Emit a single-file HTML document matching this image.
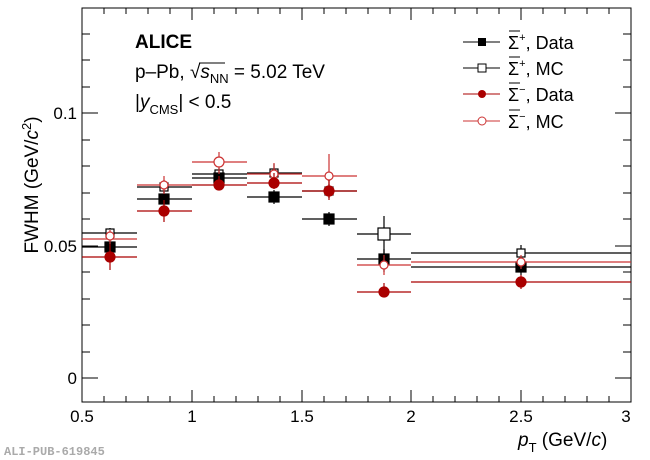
<!DOCTYPE html>
<html><head><meta charset="utf-8"><style>
body{margin:0;background:#fff;}
svg{display:block;font-family:"Liberation Sans",sans-serif;}
</style></head><body>
<svg width="650" height="460" viewBox="0 0 650 460" xmlns="http://www.w3.org/2000/svg">
<rect x="0" y="0" width="650" height="460" fill="#fff"/>
<g stroke="#000" stroke-width="1" fill="none">
<rect x="82" y="8" width="549" height="394"/>
<path d="M82,402v-12M192,402v-12M302,402v-12M411,402v-12M521,402v-12M631,402v-12"/>
<path d="M104,402v-6M126,402v-6M148,402v-6M170,402v-6M214,402v-6M236,402v-6M258,402v-6M280,402v-6M324,402v-6M346,402v-6M368,402v-6M390,402v-6M433,402v-6M455,402v-6M477,402v-6M499,402v-6M543,402v-6M565,402v-6M587,402v-6M609,402v-6"/>
<path d="M104,8v6M126,8v6M148,8v6M170,8v6M192,8v12M214,8v6M236,8v6M258,8v6M280,8v6M302,8v12M324,8v6M346,8v6M368,8v6M390,8v6M411,8v12M433,8v6M455,8v6M477,8v6M499,8v6M521,8v12M543,8v6M565,8v6M587,8v6M609,8v6"/>
<path d="M82,378h16M82,246h16M82,113h16M82,352h8M82,325h8M82,299h8M82,272h8M82,219h8M82,193h8M82,166h8M82,140h8M82,87h8M82,60h8M82,34h8"/>
<path d="M631,378h-16M631,246h-16M631,113h-16M631,352h-8M631,325h-8M631,299h-8M631,272h-8M631,219h-8M631,193h-8M631,166h-8M631,140h-8M631,87h-8M631,60h-8M631,34h-8"/>
</g>
<g font-size="17" fill="#000">
<text x="77" y="119" text-anchor="end">0.1</text>
<text x="77" y="252" text-anchor="end">0.05</text>
<text x="77" y="384" text-anchor="end">0</text>
<g text-anchor="middle">
<text x="82" y="422">0.5</text><text x="192" y="422">1</text><text x="302" y="422">1.5</text>
<text x="411" y="422">2</text><text x="521" y="422">2.5</text><text x="626" y="422">3</text>
</g>
<text x="518" y="446" font-size="19"><tspan font-style="italic">p</tspan><tspan font-size="13" dy="6">T</tspan><tspan dy="-6"> (GeV/</tspan><tspan font-style="italic">c</tspan>)</text>
<text transform="translate(38,185) rotate(-90)" font-size="19" text-anchor="middle">FWHM (GeV/<tspan font-style="italic">c</tspan><tspan font-size="13" dy="-7">2</tspan><tspan dy="7">)</tspan></text>
</g>
<text x="4" y="455" font-family="Liberation Mono,monospace" font-weight="bold" font-size="12" fill="#aaa">ALI-PUB-619845</text>
<g font-size="19">
<text x="135" y="48" font-weight="bold">ALICE</text>
<text x="135" y="78">p–Pb, <tspan>√</tspan><tspan font-style="italic">s</tspan><tspan font-size="13" dy="5">NN</tspan><tspan dy="-5"> = 5.02 TeV</tspan></text>
<path d="M199,63h26" stroke="#000" stroke-width="1"/>
<text x="135" y="108">|<tspan font-style="italic">y</tspan><tspan font-size="13" dy="6">CMS</tspan><tspan dy="-6">| &lt; 0.5</tspan></text>
</g>
<g font-size="18">
<path d="M463,42h37" stroke="#000"/><rect x="478" y="38" width="8" height="8" fill="#000"/>
<text x="508" y="49">Σ<tspan font-size="11" dy="-8">+</tspan><tspan dy="8">, Data</tspan></text>
<path d="M463,68h37" stroke="#000"/><rect x="478" y="64" width="8" height="8" fill="#fff" stroke="#000"/>
<text x="508" y="75">Σ<tspan font-size="11" dy="-8">+</tspan><tspan dy="8">, MC</tspan></text>
<path d="M463,94h37" stroke="#a00"/><circle cx="482" cy="94" r="4" fill="#a00"/>
<text x="508" y="101">Σ<tspan font-size="11" dy="-8">−</tspan><tspan dy="8">, Data</tspan></text>
<path d="M463,121h37" stroke="#c33"/><circle cx="482" cy="121" r="4" fill="#fff" stroke="#c33"/>
<text x="508" y="128">Σ<tspan font-size="11" dy="-8">−</tspan><tspan dy="8">, MC</tspan></text>
<path d="M509,31h11M509,57h11M509,83h11M509,110h11" stroke="#000"/>
</g>
<!-- MC sigma+ open squares -->
<g stroke="#000" stroke-width="1.2" fill="#fff">
<path d="M82,233h55M137,187h55M192,174h55M247,173h55M302,191h55M357,234h54M411,253h220M110,228v10M164,180v14M219,168v12M274,164v18M329,184v14M384,216v56M521,245v16"/>
<rect x="106" y="229" width="8" height="8"/><rect x="160" y="183" width="8" height="8"/><rect x="215" y="170" width="8" height="8"/><rect x="270" y="169" width="8" height="8"/><rect x="325" y="187" width="8" height="8"/><rect x="378" y="228" width="12" height="12"/><rect x="517" y="249" width="8" height="8"/>
</g>
<!-- Data sigma+ filled squares -->
<g stroke="#000" stroke-width="1.2" fill="#000">
<path d="M82,247h55M137,199h55M192,178h55M247,197h55M302,219h55M357,259h54M411,267h220M110,240v14M164,190v18M219,170v16M274,190v14M329,212v14M384,249v20M521,259v16"/>
<rect x="105" y="242" width="10" height="10"/><rect x="159" y="194" width="10" height="10"/><rect x="214" y="173" width="10" height="10"/><rect x="269" y="192" width="10" height="10"/><rect x="324" y="214" width="10" height="10"/><rect x="379" y="254" width="10" height="10"/><rect x="516" y="262" width="10" height="10"/>
</g>
<!-- MC sigma- open circles -->
<g stroke="#c33" stroke-width="1.2" fill="#fff">
<path d="M82,239h55M110,230v14M137,185h55M164,176v18M192,162h55M219,152v22M247,174h55M274,163v20M302,176h55M329,154v44M357,265h54M384,255v20M411,262h220M521,255v14"/>
<circle cx="110" cy="236" r="4"/><circle cx="164" cy="185" r="4"/><circle cx="219" cy="162" r="5"/><circle cx="274" cy="174" r="4"/><circle cx="329" cy="176" r="4"/><circle cx="384" cy="265" r="4"/><circle cx="521" cy="262" r="4"/>
</g>
<!-- Data sigma- filled circles -->
<g stroke="#a00" stroke-width="1.2" fill="#a00">
<path d="M82,257h55M110,244v26M137,211h55M164,200v22M192,185h55M219,176v14M247,183h55M274,173v16M302,191h55M329,180v20M357,292h54M384,283v12M411,282h220M521,275v14"/>
<circle cx="110" cy="257" r="5"/><circle cx="164" cy="211" r="5"/><circle cx="219" cy="185" r="5"/><circle cx="274" cy="183" r="5"/><circle cx="329" cy="191" r="5"/><circle cx="384" cy="292" r="5"/><circle cx="521" cy="282" r="5"/>
</g>
</svg>
</body></html>
